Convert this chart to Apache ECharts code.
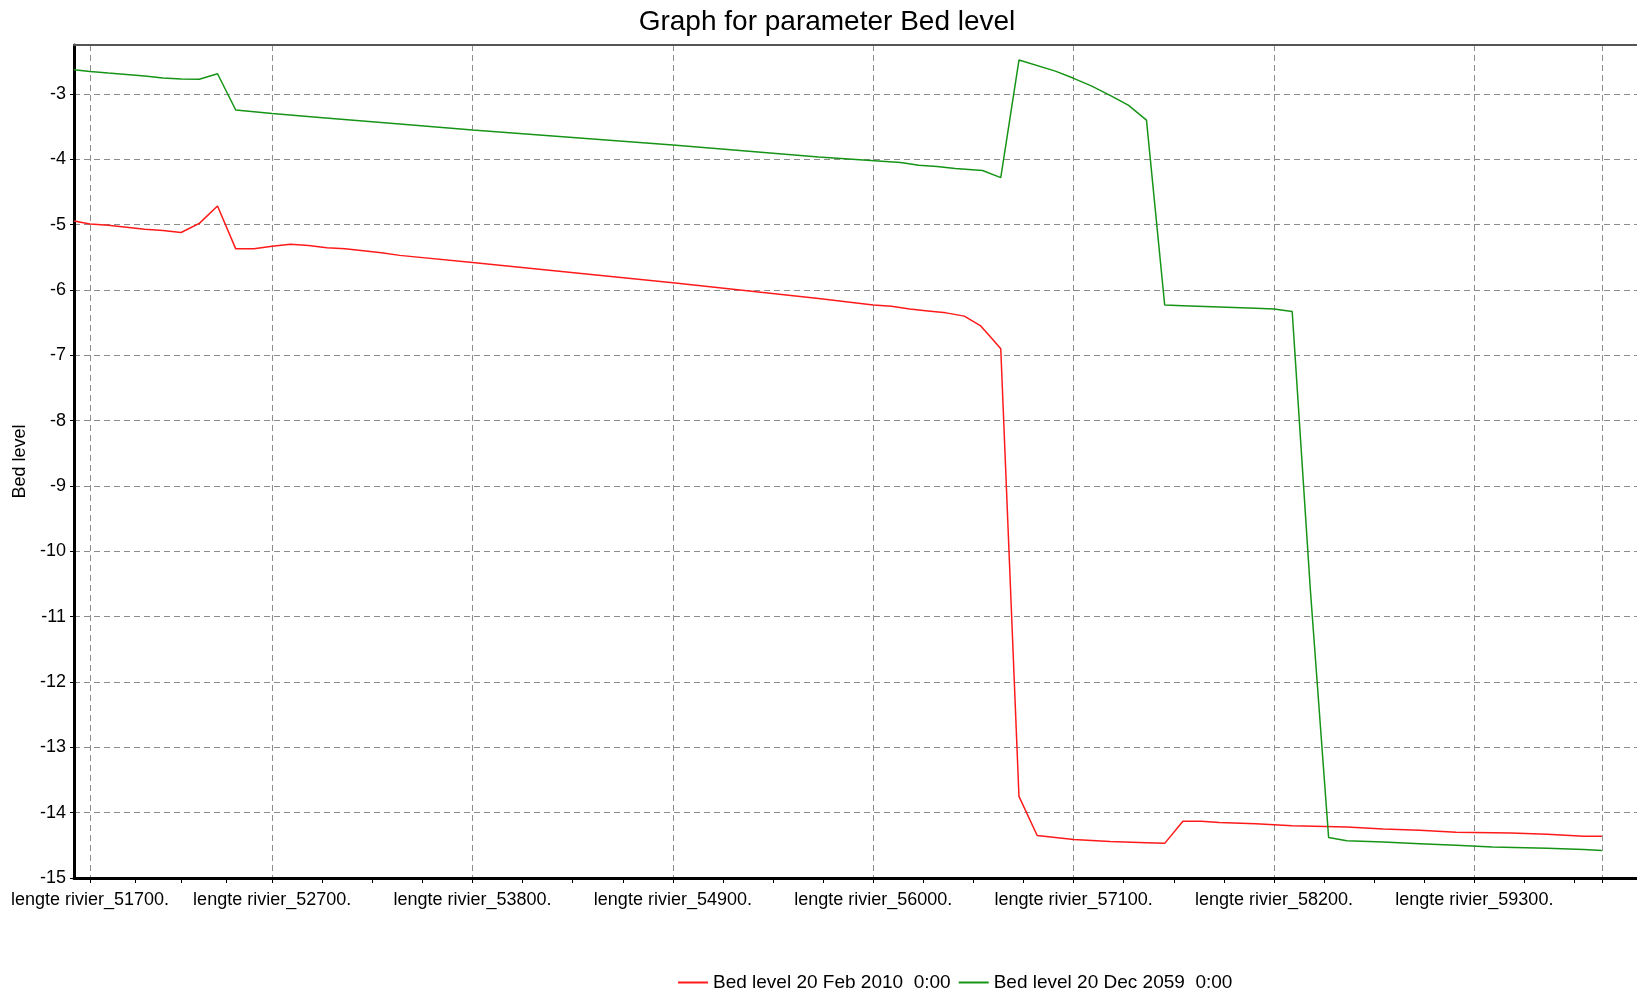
<!DOCTYPE html>
<html>
<head>
<meta charset="utf-8">
<title>Graph for parameter Bed level</title>
<script src="https://cdn.jsdelivr.net/npm/echarts@6.0.0/dist/echarts.min.js"></script>
<style>
  html, body { margin: 0; padding: 0; background: #fff; }
  #main { width: 1637px; height: 995px; }
</style>
</head>
<body>
<div id="main"></div>
<script>
  // bed level along the river, station (m) -> level
  const redKm = [51612, 51700, 51800, 51900, 52000, 52100, 52200, 52300, 52400, 52500,
    52600, 52700, 52800, 52900, 53000, 53100, 53200, 53300, 53400, 53800,
    54900, 55700, 56000, 56100, 56200, 56300, 56400, 56500, 56590, 56650,
    56700, 56800, 56900, 57100, 57300, 57500, 57600, 57700, 57800, 57900,
    58100, 58300, 58600, 58800, 59000, 59200, 59500, 59700, 59900, 60000]
  const redLevel = [-4.945, -4.99, -5.01, -5.04, -5.07, -5.09, -5.12, -4.98, -4.715, -5.37,
    -5.37, -5.33, -5.30, -5.32, -5.355, -5.37, -5.40, -5.43, -5.47, -5.58,
    -5.89, -6.13, -6.23, -6.25, -6.29, -6.32, -6.35, -6.40, -6.55, -6.74,
    -6.90, -13.75, -14.35, -14.41, -14.44, -14.46, -14.47, -14.13, -14.13, -14.15,
    -14.17, -14.20, -14.22, -14.25, -14.27, -14.30, -14.31, -14.33, -14.36, -14.36]

  const greenKm = [51612, 51700, 51800, 51900, 52000, 52100, 52200, 52300, 52400, 52500,
    52700, 52960, 53400, 53800, 54900, 55700, 56150, 56250, 56350, 56450,
    56600, 56700, 56800, 57000, 57100, 57200, 57300, 57400, 57500, 57600,
    57700, 57900, 58100, 58200, 58300, 58400, 58500, 58600, 58800, 59000,
    59200, 59400, 59700, 59900, 60000]
  const greenLevel = [-2.63, -2.655, -2.68, -2.70, -2.725, -2.755, -2.77, -2.775, -2.69, -3.245,
    -3.30, -3.36, -3.46, -3.55, -3.78, -3.965, -4.05, -4.09, -4.11, -4.14,
    -4.17, -4.28, -2.48, -2.65, -2.76, -2.88, -3.02, -3.17, -3.40, -6.23,
    -6.24, -6.26, -6.28, -6.29, -6.33, -10.6, -14.38, -14.43, -14.45, -14.475,
    -14.50, -14.525, -14.545, -14.565, -14.58]

  const seriesNames = ['Bed level 20 Feb 2010  0:00', 'Bed level 20 Dec 2059  0:00']

  // labelled stations (with grid lines), last station, small ticks in between
  const labelKm = [51700, 52700, 53800, 54900, 56000, 57100, 58200, 59300]
  const lastKm = 60000
  const tickKm = [51950, 52200, 52450, 52975, 53250, 53525, 54075, 54350, 54625,
    55175, 55450, 55725, 56275, 56550, 56825, 57375, 57650, 57925,
    58475, 58750, 59025, 59575, 59850]

  const xMin = 51612
  const xMax = 60193

  const font = "'Liberation Sans', Arial, sans-serif"
  const gridLine = { show: true, lineStyle: { color: '#8c8c8c', width: 1, type: [6, 4] } }

  const pairs = (km, lev) => km.map((k, i) => [k, lev[i]])

  let myChart = echarts.init(document.getElementById('main'), null, { renderer: 'canvas' })

  let option = {
    animation: false,
    backgroundColor: '#fff',
    title: {
      text: 'Graph for parameter Bed level',
      left: 822,
      top: 3,
      textAlign: 'center',
      textStyle: { fontFamily: font, fontSize: 28, fontWeight: 'normal', color: '#000' }
    },
    legend: {
      left: 673,
      top: 968,
      icon: 'rect',
      itemWidth: 30,
      itemHeight: 2,
      itemGap: 8,
      textStyle: { fontFamily: font, fontSize: 19, color: '#000' },
      data: seriesNames
    },
    grid: { left: 74, right: 0, top: 45, height: 833, outerBoundsMode: 'none' },
    xAxis: [
      {
        type: 'value',
        min: xMin,
        max: xMax,
        position: 'bottom',
        axisLine: { lineStyle: { color: '#000', width: 3 } },
        axisTick: { customValues: labelKm.concat([lastKm]), length: 5, lineStyle: { color: '#000' } },
        axisLabel: {
          customValues: labelKm,
          formatter: v => 'lengte rivier_' + v + '.',
          fontFamily: font,
          fontSize: 18,
          color: '#000',
          margin: 13
        },
        splitLine: gridLine
      },
      {
        // small ticks between the labels
        type: 'value',
        min: xMin,
        max: xMax,
        position: 'bottom',
        axisLine: { show: false },
        axisTick: { customValues: tickKm, length: 5, lineStyle: { color: '#000' } },
        axisLabel: { show: false },
        splitLine: { show: false }
      },
      {
        // top border of the plot
        type: 'value',
        min: xMin,
        max: xMax,
        position: 'top',
        axisLine: { lineStyle: { color: '#555', width: 2 } },
        axisTick: { show: false },
        axisLabel: { show: false },
        splitLine: { show: false }
      }
    ],
    yAxis: {
      type: 'value',
      min: -15,
      max: -2.25,
      interval: 1,
      name: 'Bed level',
      nameLocation: 'middle',
      nameGap: 38,
      nameTextStyle: { fontFamily: font, fontSize: 18, color: '#000' },
      axisLine: { show: true, lineStyle: { color: '#000', width: 3 } },
      axisTick: { show: true, length: 4, lineStyle: { color: '#000' } },
      axisLabel: { showMaxLabel: false, fontFamily: font, fontSize: 18, color: '#000', margin: 8 },
      splitLine: gridLine
    },
    series: [
      {
        name: seriesNames[0],
        type: 'line',
        xAxisIndex: 0,
        data: pairs(redKm, redLevel),
        showSymbol: false,
        color: '#ff1a1a',
        lineStyle: { width: 1.5 }
      },
      {
        name: seriesNames[1],
        type: 'line',
        xAxisIndex: 0,
        data: pairs(greenKm, greenLevel),
        showSymbol: false,
        color: '#169416',
        lineStyle: { width: 1.5 }
      }
    ]
  }

  myChart.setOption(option)
</script>
</body>
</html>
